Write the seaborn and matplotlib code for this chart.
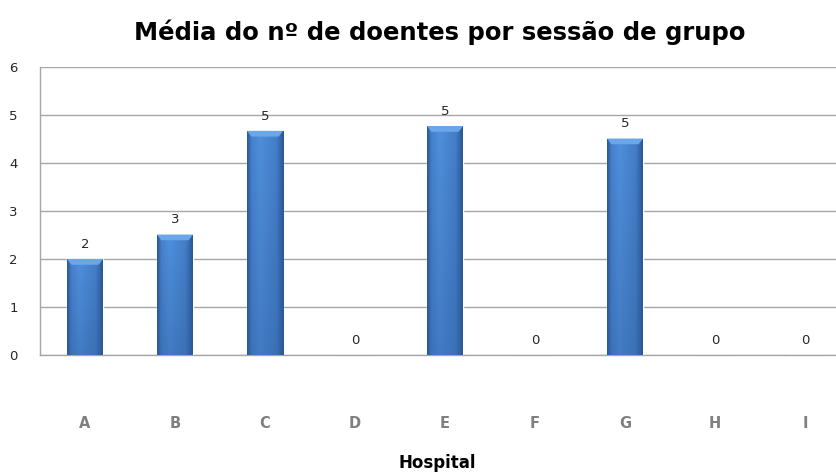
import numpy as np
import pandas as pd
import matplotlib
matplotlib.use("Agg")
import matplotlib.pyplot as plt
import seaborn as sns
from matplotlib.colors import to_rgb

# Average number of patients per group session, by hospital
hospitals = ["A", "B", "C", "D", "E", "F", "G", "H", "I"]
mean_patients = [2.0, 2.51, 4.67, 0, 4.77, 0, 4.51, 0, 0]

title = "Média do nº de doentes por sessão de grupo"
x_title = "Hospital"

df = pd.DataFrame({"Hospital": hospitals, "Media": mean_patients})

sns.set_theme(style="white")
plt.rcParams["font.family"] = ["DejaVu Sans"]

W, H = 837, 473
fig = plt.figure(figsize=(W / 100, H / 100), dpi=100)
ax = fig.add_axes([40 / W, (H - 355) / H, 810 / W, (355 - 67) / H])

sns.barplot(data=df, x="Hospital", y="Media", color="#3b78c6", width=0.4,
            ax=ax, saturation=1, zorder=3)

ax.set_ylim(0, 6)
ax.set_xlim(-0.5, len(hospitals) - 0.5)
ax.set_yticks(range(0, 7))
ax.yaxis.grid(True, color="#a6a6a6", linewidth=1, zorder=0)
ax.set_axisbelow(True)

for side in ["top", "right"]:
    ax.spines[side].set_visible(False)
for side in ["left", "bottom"]:
    ax.spines[side].set_color("#a6a6a6")
    ax.spines[side].set_linewidth(1)

ax.tick_params(axis="y", which="major", length=6, width=1, color="#a6a6a6",
               labelsize=9.5, labelcolor="#262626", pad=10)
ax.tick_params(axis="x", which="major", length=0, pad=44,
               labelsize=10.5, labelcolor="#7f7f7f")
for lab in ax.get_xticklabels():
    lab.set_fontweight("bold")
ax.set_xticks(np.arange(-0.5, len(hospitals)), minor=True)
ax.tick_params(axis="x", which="minor", length=5, width=1, color="#a6a6a6")

ax.set_xlabel("")
ax.set_ylabel("")

# Shaded, bevelled look for each bar
c_dark = np.array(to_rgb("#2a5796"))
c_light = np.array(to_rgb("#4f8fdc"))
nx, ny = 64, 64
u = np.linspace(0, 1, nx)
prof = np.interp(u, [0, 0.12, 0.35, 0.8, 1.0], [0.0, 0.75, 1.0, 0.7, 0.0])
v = np.linspace(0, 1, ny)[:, None]
grad = np.empty((ny, nx, 3))
for k in range(3):
    base = c_dark[k] + (c_light[k] - c_dark[k]) * prof[None, :]
    grad[:, :, k] = c_dark[k] + (base - c_dark[k]) * (0.65 + 0.35 * (1 - v))

for patch in ax.patches:
    x0, y0 = patch.get_x(), patch.get_y()
    w, h = patch.get_width(), patch.get_height()
    if h <= 0:
        continue
    im = ax.imshow(grad, extent=(x0, x0 + w, y0, y0 + h), origin="upper",
                   aspect="auto", zorder=4, interpolation="bilinear")
    im.set_clip_path(patch)
    # lighter bevel at the top of the bar
    bev = 0.12
    ax.fill([x0, x0 + w, x0 + w * 0.88, x0 + w * 0.12],
            [y0 + h, y0 + h, y0 + h - bev, y0 + h - bev],
            color="#6aa6e8", zorder=5, linewidth=0)

ax.set_xlim(-0.5, len(hospitals) - 0.5)
ax.set_ylim(0, 6)

ax.bar_label(ax.containers[0], labels=[f"{v:.0f}" for v in mean_patients],
             padding=6, fontsize=9.5, color="#262626", zorder=6)

fig.text(440 / W, 1 - 32 / H, title, ha="center", va="center",
         fontsize=17.5, fontweight="bold", color="#000000")
fig.text(437 / W, 1 - 468 / H, x_title, ha="center", va="baseline",
         fontsize=12, fontweight="bold", color="#000000")

fig.savefig("out.png", dpi=100)
